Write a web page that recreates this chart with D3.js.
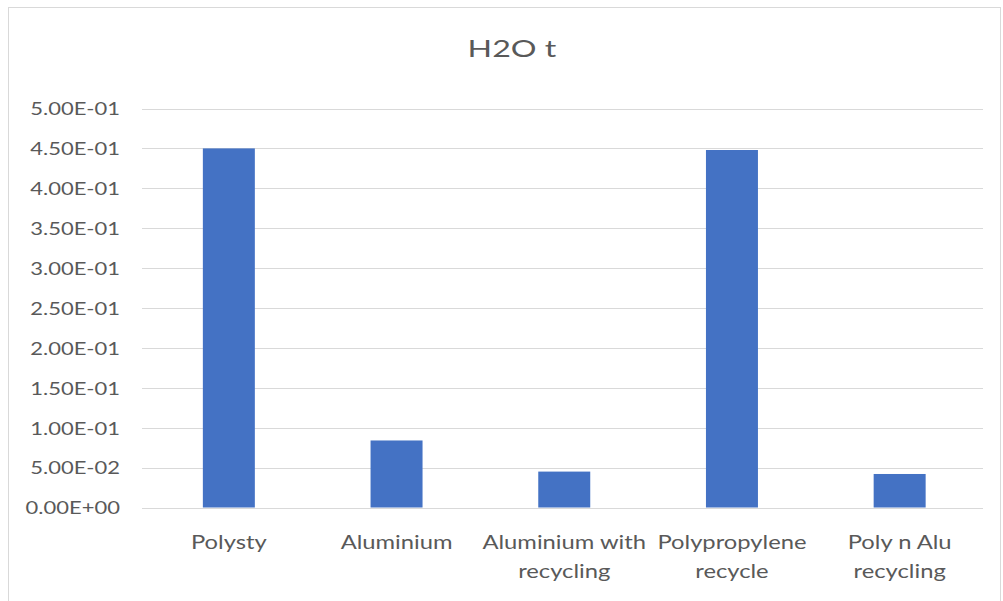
<!DOCTYPE html>
<html>
<head>
<meta charset="utf-8">
<script src="https://cdn.jsdelivr.net/npm/d3@7"></script>
<style>
  html, body { margin: 0; padding: 0; background: #ffffff; }
  svg { display: block; }
  text { font-family: Lato, "Open Sans", sans-serif; fill: #595959; }
</style>
</head>
<body>
<svg id="chart" width="1003" height="601"></svg>
<script>
// H2O t per packaging option
const categories = ["Polysty", "Aluminium", "Aluminium with\nrecycling", "Polypropylene\nrecycle", "Poly n Alu\nrecycling"];
const values = [0.450, 0.084, 0.045, 0.448, 0.042];
const yTicks = [0, 0.05, 0.10, 0.15, 0.20, 0.25, 0.30, 0.35, 0.40, 0.45, 0.50];
const yTickLabels = ["0.00E+00", "5.00E-02", "1.00E-01", "1.50E-01", "2.00E-01", "2.50E-01",
                     "3.00E-01", "3.50E-01", "4.00E-01", "4.50E-01", "5.00E-01"];
const title = "H2O t";

const W = 1003, H = 601;
const plot = { left: 142, right: 983, top: 108.5, bottom: 507.5 };
const barColor = "#4472c4";
const gridColor = "#d9d9d9";

const svg = d3.select("#chart");

// chart frame
svg.append("rect")
  .attr("x", 8.5).attr("y", 7.5)
  .attr("width", 992).attr("height", 600)
  .attr("fill", "#ffffff")
  .attr("stroke", gridColor).attr("stroke-width", 1);

const x = d3.scaleBand()
  .domain(categories)
  .range([145, 983.5])
  .padding(0);

const y = d3.scaleLinear()
  .domain([0, 0.5])
  .range([plot.bottom, plot.top]);

// horizontal gridlines
svg.append("g")
  .selectAll("line")
  .data(yTicks)
  .join("line")
  .attr("x1", plot.left).attr("x2", plot.right)
  .attr("y1", d => Math.round(y(d)) + 0.5)
  .attr("y2", d => Math.round(y(d)) + 0.5)
  .attr("stroke", gridColor).attr("stroke-width", 1);

// y axis labels
const yAxis = d3.axisLeft(y)
  .tickValues(yTicks)
  .tickFormat((d, i) => yTickLabels[i])
  .tickSize(0);

const gy = svg.append("g")
  .attr("transform", `translate(${plot.left},0)`)
  .call(yAxis);
gy.select(".domain").remove();
gy.selectAll(".tick text")
  .attr("x", 0).attr("dy", null)
  .attr("transform", "translate(-22,6.3) scale(1.25,1)")
  .style("font-size", "17.6px")
  .style("fill", "#595959")
  .style("font-family", "Lato, 'Open Sans', sans-serif");

// bars
const barFrac = 0.31;
svg.append("g")
  .selectAll("rect")
  .data(values)
  .join("rect")
  .attr("x", (d, i) => x(categories[i]) + x.bandwidth() * (1 - barFrac) / 2)
  .attr("width", x.bandwidth() * barFrac)
  .attr("y", d => y(d))
  .attr("height", d => y(0) - y(d))
  .attr("fill", barColor);

// category labels
const xAxis = d3.axisBottom(x).tickSize(0).tickFormat(() => "");
const gx = svg.append("g")
  .attr("transform", `translate(0,${plot.bottom})`)
  .call(xAxis);
gx.select(".domain").remove();
gx.selectAll(".tick").each(function(d) {
  const lines = d.split("\n");
  const t = d3.select(this).select("text")
    .attr("y", 0).attr("dy", null)
    .attr("transform", "translate(0,41.8) scale(1.2,1)")
    .style("font-size", "19.8px")
    .style("fill", "#595959")
    .style("font-family", "Lato, 'Open Sans', sans-serif");
  t.selectAll("tspan")
    .data(lines)
    .join("tspan")
    .attr("x", 0)
    .attr("y", (l, i) => i * 28.5)
    .text(l => l);
});

// title
svg.append("text")
  .attr("transform", "translate(512,57.3) scale(1.4,1)")
  .attr("text-anchor", "middle")
  .style("font-size", "23px")
  .text(title);
</script>
</body>
</html>
